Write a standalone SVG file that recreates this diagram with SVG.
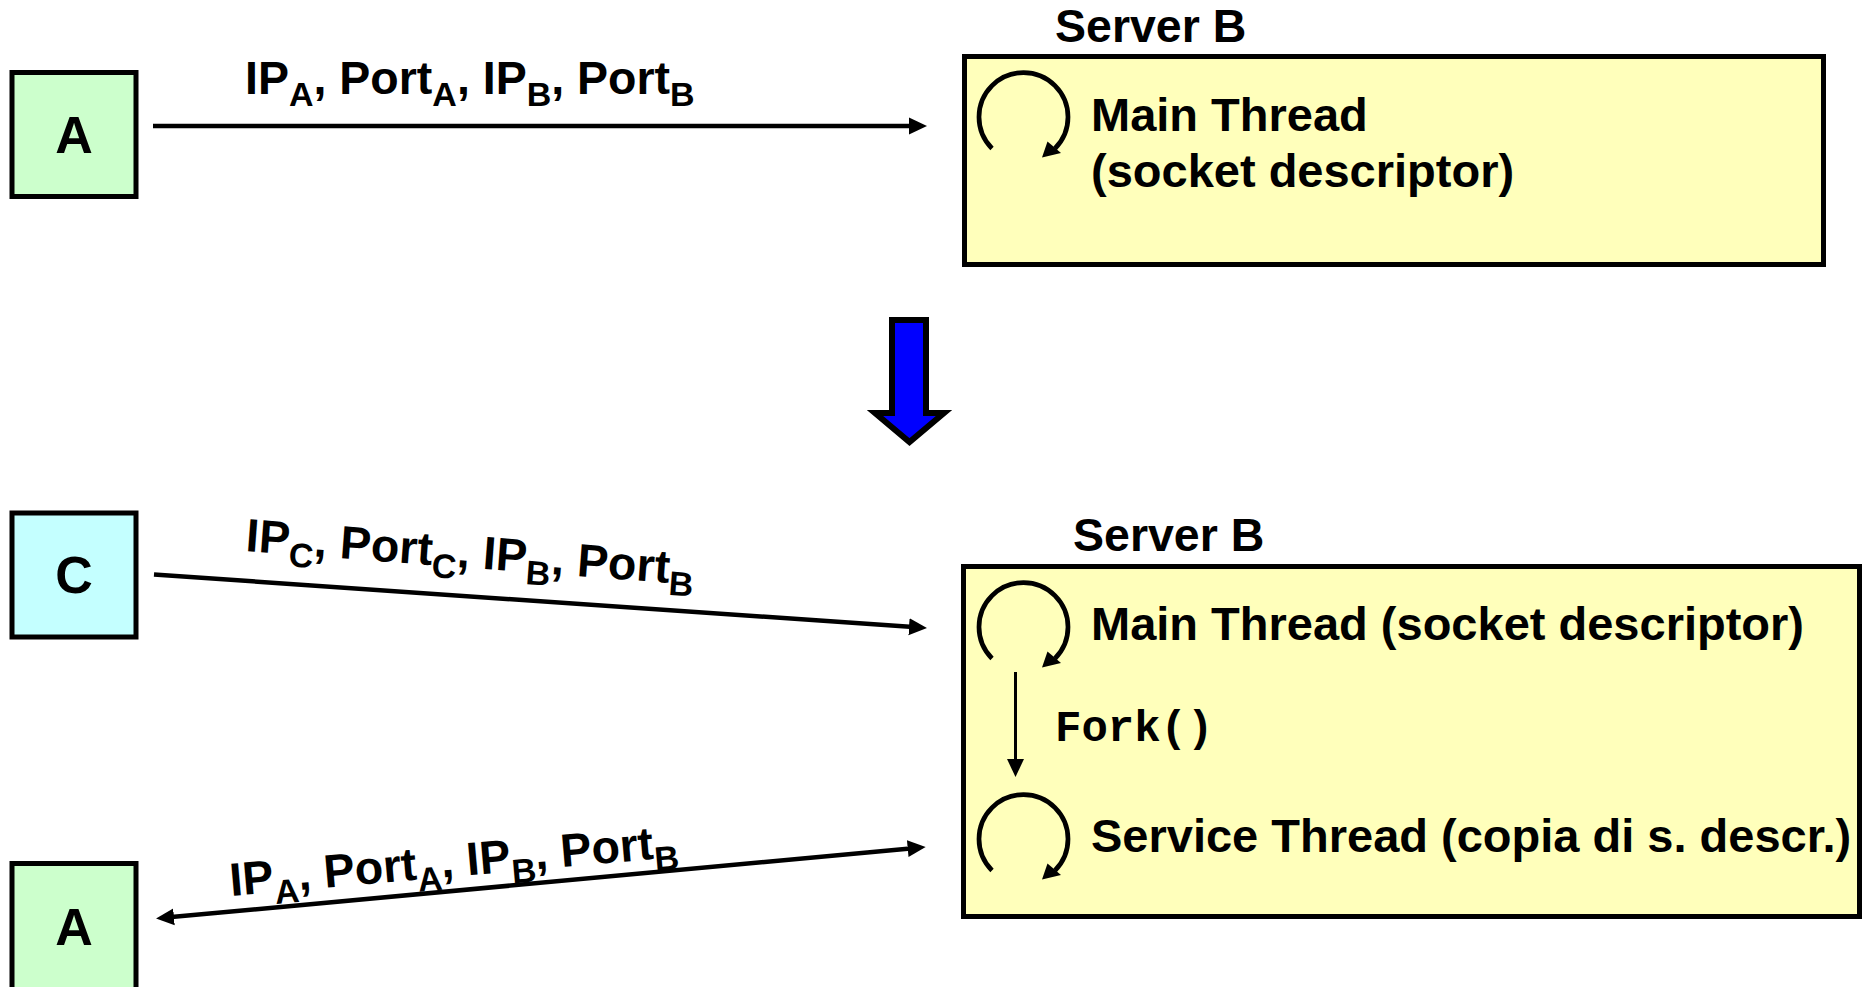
<svg xmlns="http://www.w3.org/2000/svg" width="1868" height="987" viewBox="0 0 1868 987">
  <style>
    .lbl { font-family: "Liberation Sans", Arial, sans-serif; font-weight: bold; fill: #000; }
    .big { font-size: 52px; }
    .main { font-size: 46.5px; }
    .box { font-size: 47px; }
    .sub { font-size: 34px; }
    .mono { font-family: "Liberation Mono", "Courier New", monospace; font-weight: bold; font-size: 44px; fill: #000; }
    .client { stroke: #000; stroke-width: 5; }
    .server { fill: #FFFFBB; stroke: #000; stroke-width: 5; }
    .link { stroke: #000; stroke-width: 4.5; fill: none; }
  </style>
  <defs>
    <marker id="head" viewBox="0 0 18 18" refX="8" refY="9" markerWidth="18" markerHeight="18" markerUnits="userSpaceOnUse" orient="auto-start-reverse">
      <path d="M0,0.5 L18,9 L0,17.5 z" fill="#000"/>
    </marker>
    <!-- looping thread symbol -->
    <g id="loop">
      <path d="M -31.5 31.5 A 44.5 44.5 0 1 1 31.5 31.5" fill="none" stroke="#000" stroke-width="4.7"/>
      <polygon points="18.5,40.5 24,24.5 37.5,36" fill="#000"/>
    </g>
  </defs>

  <rect width="1868" height="987" fill="#fff"/>

  <!-- top scene -->
  <g id="client-a-top">
    <rect class="client" x="12" y="72.5" width="124" height="124" fill="#CCFFCC"/>
    <text class="lbl big" x="74" y="153" text-anchor="middle">A</text>
  </g>

  <g id="server-b-top">
    <text class="lbl main" x="1055" y="42">Server B</text>
    <rect class="server" x="964.5" y="56.5" width="859" height="208"/>
    <use href="#loop" x="1023.5" y="117"/>
    <text class="lbl box" x="1091" y="131">Main Thread</text>
    <text class="lbl box" x="1091" y="187">(socket descriptor)</text>
  </g>

  <g id="transition">
    <polygon points="892,320 926,320 926,413 944,413 909.5,442 875,413 892,413" fill="#0000FF" stroke="#000" stroke-width="6" stroke-linejoin="miter"/>
  </g>

  <!-- bottom scene -->
  <g id="client-c">
    <rect class="client" x="12" y="513" width="124" height="124" fill="#C4FFFF"/>
    <text class="lbl big" x="74" y="593" text-anchor="middle">C</text>
  </g>

  <g id="client-a-bottom">
    <rect class="client" x="12" y="863.5" width="124" height="140" fill="#CCFFCC"/>
    <text class="lbl big" x="74" y="945" text-anchor="middle">A</text>
  </g>

  <g id="server-b-bottom">
    <text class="lbl main" x="1073" y="551">Server B</text>
    <rect class="server" x="963.5" y="566.5" width="896" height="350"/>
    <use href="#loop" x="1023.5" y="627"/>
    <text class="lbl box" x="1091" y="640">Main Thread (socket descriptor)</text>
    <text class="mono" x="1055" y="741">Fork()</text>
    <use href="#loop" x="1023.5" y="839"/>
    <text class="lbl box" x="1091" y="852">Service Thread (copia di s. descr.)</text>
  </g>

  <g id="connectors">
    <line class="link" x1="153" y1="126" x2="917" y2="126" marker-end="url(#head)"/>
    <text class="lbl main" x="245" y="94">IP<tspan class="sub" dy="12">A</tspan><tspan dy="-12">, Port</tspan><tspan class="sub" dy="12">A</tspan><tspan dy="-12">, IP</tspan><tspan class="sub" dy="12">B</tspan><tspan dy="-12">, Port</tspan><tspan class="sub" dy="12">B</tspan></text>

    <line class="link" x1="154" y1="574.5" x2="917" y2="627.3" marker-end="url(#head)"/>
    <text class="lbl main" transform="translate(245,551) rotate(4.3)">IP<tspan class="sub" dy="12">C</tspan><tspan dy="-12">, Port</tspan><tspan class="sub" dy="12">C</tspan><tspan dy="-12">, IP</tspan><tspan class="sub" dy="12">B</tspan><tspan dy="-12">, Port</tspan><tspan class="sub" dy="12">B</tspan></text>

    <line class="link" x1="166" y1="917.6" x2="915.7" y2="847.9" marker-start="url(#head)" marker-end="url(#head)"/>
    <text class="lbl main" transform="translate(231,896) rotate(-5)">IP<tspan class="sub" dy="12">A</tspan><tspan dy="-12">, Port</tspan><tspan class="sub" dy="12">A</tspan><tspan dy="-12">, IP</tspan><tspan class="sub" dy="12">B</tspan><tspan dy="-12">, Port</tspan><tspan class="sub" dy="12">B</tspan></text>

    <line x1="1015.5" y1="672" x2="1015.5" y2="767" stroke="#000" stroke-width="3" marker-end="url(#head)"/>
  </g>
</svg>
